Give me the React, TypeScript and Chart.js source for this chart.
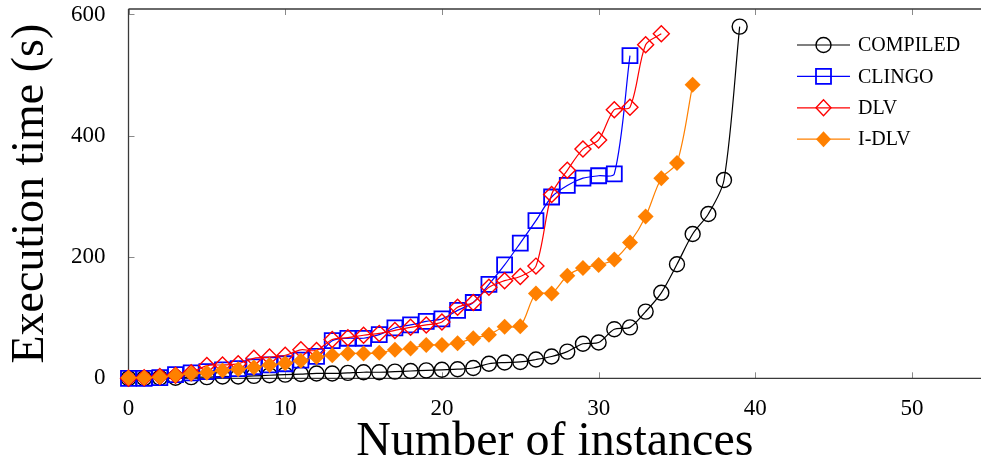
import React, { useEffect, useRef } from 'react';
import { Chart, registerables } from 'chart.js';

Chart.register(...registerables);

const X_TICKS = [0, 10, 20, 30, 40, 50];
const Y_TICKS = [0, 200, 400, 600];
const X_MIN = 0;
const X_MAX = 54.4;
const Y_MIN = 0;
const Y_MAX = 609;

const SERIES_NAMES = ['COMPILED', 'CLINGO', 'DLV', 'I-DLV'];

const compiled = [0, 0, 1, 1, 2, 2, 3, 3, 4, 5, 6, 7, 8, 8, 9, 10, 10, 11, 12, 13, 14, 15, 17, 24, 26, 27, 31, 36, 44, 57, 59, 81, 84, 110, 141, 188, 238, 271, 327, 580];
const clingo = [0, 0, 1, 6, 9, 11, 14, 16, 19, 22, 24, 30, 36, 62, 66, 66, 72, 83, 88, 94, 98, 112, 125, 155, 187, 223, 260, 299, 318, 330, 334, 337, 532];
const dlv = [0, 1, 3, 5, 9, 21, 22, 24, 33, 35, 38, 47, 46, 64, 67, 71, 74, 79, 84, 88, 93, 117, 125, 150, 161, 168, 185, 303, 343, 378, 393, 443, 447, 550, 568];
const idlv = [1, 1, 2, 5, 8, 9, 13, 15, 18, 22, 25, 29, 35, 38, 41, 41, 42, 47, 49, 55, 55, 58, 66, 72, 85, 86, 140, 140, 169, 182, 187, 196, 224, 267, 330, 355, 484];

const COLORS = ['#000000', '#0000ff', '#ff0000', '#ff8000'];
const FONT = "'Liberation Serif', 'Times New Roman', serif";

const toPoints = (arr: number[]) => arr.map((v, i) => ({ x: i, y: v }));

function drawMarker(ctx: CanvasRenderingContext2D, kind: number, x: number, y: number) {
  ctx.save();
  ctx.strokeStyle = COLORS[kind];
  ctx.fillStyle = COLORS[kind];
  ctx.beginPath();
  if (kind === 0) {
    ctx.lineWidth = 1.4;
    ctx.arc(x, y, 7.5, 0, Math.PI * 2);
    ctx.stroke();
  } else if (kind === 1) {
    ctx.lineWidth = 1.8;
    ctx.rect(x - 7.5, y - 7.5, 15, 15);
    ctx.stroke();
  } else if (kind === 2) {
    ctx.lineWidth = 1.4;
    ctx.moveTo(x - 7.5, y);
    ctx.lineTo(x, y - 8);
    ctx.lineTo(x + 7.5, y);
    ctx.lineTo(x, y + 8);
    ctx.closePath();
    ctx.stroke();
  } else {
    ctx.moveTo(x - 7.5, y);
    ctx.lineTo(x, y - 8);
    ctx.lineTo(x + 7.5, y);
    ctx.lineTo(x, y + 8);
    ctx.closePath();
    ctx.fill();
  }
  ctx.restore();
}

const framePlugin = {
  id: 'frame',
  beforeDatasetsDraw(chart: any) {
    const { ctx, chartArea } = chart;
    const { left, right, top, bottom } = chartArea;
    const xs = chart.scales.x;
    const ys = chart.scales.y;
    ctx.save();
    ctx.strokeStyle = '#8a8a8a';
    ctx.lineWidth = 1;
    const tl = 6;
    X_TICKS.forEach((v) => {
      const px = Math.round(xs.getPixelForValue(v)) + 0.5;
      ctx.beginPath();
      ctx.moveTo(px, bottom);
      ctx.lineTo(px, bottom - tl);
      ctx.moveTo(px, top);
      ctx.lineTo(px, top + tl);
      ctx.stroke();
    });
    Y_TICKS.forEach((v) => {
      const py = Math.round(ys.getPixelForValue(v)) + 0.5;
      ctx.beginPath();
      ctx.moveTo(left, py);
      ctx.lineTo(left + tl, py);
      ctx.stroke();
    });
    ctx.strokeStyle = '#3a3a3a';
    ctx.lineWidth = 1.3;
    ctx.beginPath();
    ctx.moveTo(left, top);
    ctx.lineTo(right + 2, top);
    ctx.moveTo(left, top);
    ctx.lineTo(left, bottom);
    ctx.lineTo(right + 2, bottom);
    ctx.stroke();
    ctx.restore();
  },
  afterDraw(chart: any) {
    const { ctx, chartArea } = chart;
    const x0 = chartArea.right - 184;
    const y0 = chartArea.top + 36;
    const dy = 31.4;
    ctx.save();
    SERIES_NAMES.forEach((name, i) => {
      const y = y0 + i * dy;
      ctx.strokeStyle = COLORS[i];
      ctx.lineWidth = 1.2;
      ctx.beginPath();
      ctx.moveTo(x0, y);
      ctx.lineTo(x0 + 53, y);
      ctx.stroke();
      drawMarker(ctx, i, x0 + 26.5, y);
      ctx.fillStyle = '#000';
      ctx.font = `20px ${FONT}`;
      ctx.textBaseline = 'middle';
      ctx.textAlign = 'left';
      ctx.fillText(name, x0 + 61, y + 1);
    });
    ctx.restore();
  },
};

export default function App() {
  const ref = useRef<HTMLCanvasElement | null>(null);

  useEffect(() => {
    if (!ref.current) return;
    const common = {
      borderWidth: 1.2,
      tension: 0.3,
      clip: false as any,
      showLine: true,
      pointHoverRadius: 7.5,
    };
    const chart = new Chart(ref.current, {
      type: 'scatter',
      data: {
        datasets: [
          {
            ...common,
            label: SERIES_NAMES[0],
            data: toPoints(compiled),
            borderColor: COLORS[0],
            backgroundColor: 'rgba(0,0,0,0)',
            pointStyle: 'circle',
            pointRadius: 7.5,
            pointBorderWidth: 1.4,
            order: 4,
          },
          {
            ...common,
            label: SERIES_NAMES[1],
            data: toPoints(clingo),
            borderColor: COLORS[1],
            backgroundColor: 'rgba(0,0,0,0)',
            pointStyle: 'rect',
            pointRadius: 10.6,
            pointBorderWidth: 1.8,
            order: 3,
          },
          {
            ...common,
            label: SERIES_NAMES[2],
            data: toPoints(dlv),
            borderColor: COLORS[2],
            backgroundColor: 'rgba(0,0,0,0)',
            pointStyle: 'rectRot',
            pointRadius: 8,
            pointBorderWidth: 1.4,
            order: 2,
          },
          {
            ...common,
            label: SERIES_NAMES[3],
            data: toPoints(idlv),
            borderColor: COLORS[3],
            backgroundColor: COLORS[3],
            pointBackgroundColor: COLORS[3],
            pointStyle: 'rectRot',
            pointRadius: 8,
            pointBorderWidth: 0,
            order: 1,
          },
        ],
      },
      options: {
        animation: false,
        responsive: false,
        layout: { autoPadding: false, padding: { top: 9, right: 0, left: 0, bottom: 0 } },
        plugins: {
          legend: { display: false },
          tooltip: { enabled: false },
        },
        scales: {
          x: {
            type: 'linear',
            min: X_MIN,
            max: X_MAX,
            grid: { display: false },
            border: { display: false },
            afterBuildTicks: (s: any) => {
              s.ticks = X_TICKS.map((v) => ({ value: v }));
            },
            afterFit: (s: any) => {
              s.height = 87.7;
              s.paddingLeft = 0;
              s.paddingRight = 0;
              s.paddingTop = 0;
              s.paddingBottom = 0;
            },
            ticks: {
              color: '#000',
              font: { family: FONT, size: 23 },
              padding: 9,
              maxRotation: 0,
            },
            title: {
              display: true,
              text: 'Number of instances',
              color: '#000',
              font: { family: FONT, size: 48, lineHeight: 1 },
              padding: { top: 0, bottom: 0 },
            },
          },
          y: {
            type: 'linear',
            min: Y_MIN,
            max: Y_MAX,
            grid: { display: false },
            border: { display: false },
            afterBuildTicks: (s: any) => {
              s.ticks = Y_TICKS.map((v) => ({ value: v }));
            },
            afterFit: (s: any) => {
              s.width = 128.5;
              s.paddingLeft = 0;
              s.paddingRight = 0;
              s.paddingTop = 0;
              s.paddingBottom = 0;
            },
            ticks: {
              color: '#000',
              font: { family: FONT, size: 23 },
              padding: 15,
            },
            title: {
              display: true,
              text: 'Execution time (s)',
              color: '#000',
              font: { family: FONT, size: 46, lineHeight: 1 },
              padding: { top: 8, bottom: 0 },
            },
          },
        },
      },
      plugins: [framePlugin],
    });
    return () => chart.destroy();
  }, []);

  return (
    <div style={{ position: 'absolute', left: 0, top: 0, width: 981, height: 466, background: '#fff' }}>
      <canvas ref={ref} width={981} height={466} style={{ display: 'block' }} />
    </div>
  );
}
